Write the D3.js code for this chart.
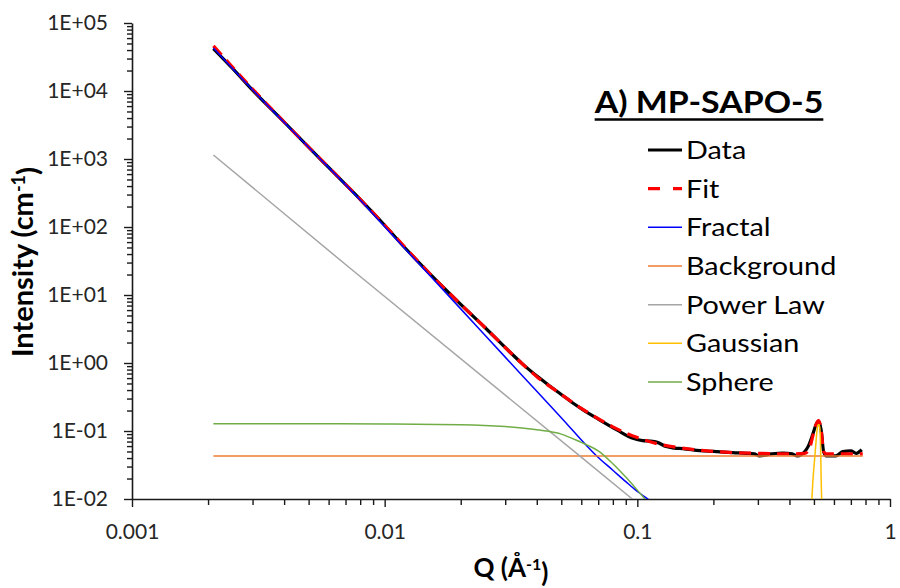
<!DOCTYPE html>
<html>
<head>
<meta charset="utf-8">
<script src="https://cdn.jsdelivr.net/npm/d3@7/dist/d3.min.js"></script>
<style>
  html, body { margin: 0; padding: 0; background: #fff; }
  svg { display: block; font-family: Lato, "Open Sans", sans-serif; }
</style>
</head>
<body>
<svg id="chart" width="900" height="588"></svg>
<script>
// ---- data ----
const xTickValues = [0.001, 0.01, 0.1, 1];
const xTickLabels = ["0.001", "0.01", "0.1", "1"];
const yTickValues = [1e-2, 1e-1, 1e0, 1e1, 1e2, 1e3, 1e4, 1e5];
const yTickLabels = ["1E-02", "1E-01", "1E+00", "1E+01", "1E+02", "1E+03", "1E+04", "1E+05"];

const seriesNames = ["Data", "Fit", "Fractal", "Background", "Power Law", "Gaussian", "Sphere"];

const qData = [0.0021, 0.0025, 0.003, 0.004, 0.005, 0.006, 0.008, 0.01, 0.012, 0.015, 0.02, 0.025, 0.031, 0.035, 0.041, 0.045, 0.05, 0.055, 0.061, 0.07, 0.083, 0.096, 0.105, 0.112, 0.12, 0.13, 0.14, 0.151, 0.177, 0.2, 0.22, 0.239, 0.27, 0.29, 0.305, 0.34, 0.377, 0.41, 0.43, 0.46, 0.475, 0.495, 0.51, 0.521, 0.534, 0.546, 0.56, 0.61, 0.65, 0.7, 0.735, 0.773];
const iData = [42000, 21500, 10300, 3500, 1490, 750, 255, 106, 50, 21, 7.3, 3.3, 1.5, 0.98, 0.6, 0.46, 0.345, 0.265, 0.205, 0.15, 0.104, 0.078, 0.072, 0.071, 0.068, 0.059, 0.056, 0.055, 0.0513, 0.05, 0.049, 0.048, 0.047, 0.046, 0.043, 0.046, 0.0475, 0.046, 0.043, 0.05, 0.06, 0.09, 0.125, 0.14, 0.103, 0.05, 0.043, 0.043, 0.0497, 0.051, 0.047, 0.053];

const qFit = [0.0021, 0.003, 0.005, 0.008, 0.01, 0.015, 0.02, 0.025, 0.031, 0.04, 0.05, 0.06, 0.07, 0.08, 0.1, 0.12, 0.15, 0.2, 0.3, 0.4, 0.46, 0.48, 0.495, 0.51, 0.521, 0.534, 0.546, 0.56, 0.6, 0.7, 0.78];
const iFit = [46000, 10700, 1500, 255, 106, 21, 7.3, 3.3, 1.5, 0.63, 0.345, 0.215, 0.152, 0.115, 0.08, 0.065, 0.056, 0.05, 0.047, 0.046, 0.047, 0.055, 0.085, 0.125, 0.142, 0.105, 0.05, 0.046, 0.046, 0.046, 0.046];

const qFractal = [0.0021, 0.003, 0.005, 0.008, 0.01, 0.02, 0.03, 0.04, 0.05, 0.069, 0.08, 0.09, 0.1, 0.11, 0.12];
const iFractal = [42900, 10400, 1490, 250, 101, 6.25, 1.22, 0.385, 0.157, 0.043, 0.0265, 0.018, 0.0129, 0.01, 0.0078];

const qBackground = [0.0021, 0.78];
const iBackground = [0.043, 0.043];

const qPowerLaw = [0.0021, 0.0073, 0.0593, 0.0955, 0.1];
const iPowerLaw = [1145, 24.7, 0.0426, 0.01, 0.0087];

const qGaussian = [0.486, 0.49, 0.495, 0.502, 0.508, 0.514, 0.519, 0.523, 0.527, 0.531, 0.534, 0.537, 0.54];
const iGaussian = [0.006, 0.009, 0.018, 0.035, 0.06, 0.1, 0.122, 0.125, 0.115, 0.06, 0.02, 0.008, 0.005];

const qSphere = [0.0021, 0.005, 0.01, 0.02, 0.03, 0.04, 0.05, 0.06, 0.064, 0.07, 0.08, 0.09, 0.1, 0.108, 0.115];
const iSphere = [0.128, 0.128, 0.127, 0.124, 0.116, 0.104, 0.09, 0.068, 0.061, 0.051, 0.033, 0.021, 0.0135, 0.0095, 0.006];

// ---- drawing ----
const svg = d3.select("#chart");
const x = d3.scaleLog().domain([0.001, 1]).range([132, 890]);
const y = d3.scaleLog().domain([0.01, 1e5]).range([499, 23]);

const axisColor = "#1a1a1a";
const labelColor = "#262626";
const FONT = "Lato, 'Open Sans', sans-serif";

svg.append("defs").append("clipPath").attr("id", "plotclip")
  .append("rect").attr("x", 132).attr("y", 0).attr("width", 758).attr("height", 499);

const xMinor = [];
for (let e = -3; e < 0; e++) for (let m = 2; m <= 9; m++) xMinor.push(m * Math.pow(10, e));
const yMinor = [];
for (let e = -2; e < 5; e++) for (let m = 2; m <= 9; m++) yMinor.push(m * Math.pow(10, e));

function styleAxis(g) {
  g.selectAll("path.domain").attr("stroke", axisColor).attr("stroke-width", 1.6);
  g.selectAll(".tick line").attr("stroke", axisColor).attr("stroke-width", 1.4);
  g.selectAll(".tick text").attr("fill", labelColor).style("font-size", "21px")
    .style("font-family", FONT);
}

const gyMinor = svg.append("g").attr("transform", "translate(132,0)")
  .call(d3.axisLeft(y).tickValues(yMinor).tickSize(5).tickSizeOuter(0).tickFormat(""));
gyMinor.select("path.domain").remove();
styleAxis(gyMinor);
const gy = svg.append("g").attr("transform", "translate(132,0)")
  .call(d3.axisLeft(y).tickValues(yTickValues).tickSize(8).tickSizeOuter(0).tickPadding(16)
    .tickFormat((d, i) => yTickLabels[i]));
styleAxis(gy);

const gxMinor = svg.append("g").attr("transform", "translate(0,499)")
  .call(d3.axisBottom(x).tickValues(xMinor).tickSize(6).tickSizeOuter(0).tickFormat(""));
gxMinor.select("path.domain").remove();
styleAxis(gxMinor);
const gx = svg.append("g").attr("transform", "translate(0,499)")
  .call(d3.axisBottom(x).tickValues(xTickValues).tickSize(8).tickSizeOuter(0).tickPadding(17)
    .tickFormat((d, i) => xTickLabels[i]));
styleAxis(gx);

const series = [
  { name: "Data", q: qData, v: iData, color: "#000000", width: 3.2, dash: null, curve: d3.curveMonotoneX },
  { name: "Fit", q: qFit, v: iFit, color: "#ff0000", width: 3.2, dash: "12,7", curve: d3.curveMonotoneX },
  { name: "Fractal", q: qFractal, v: iFractal, color: "#0000ff", width: 1.5, dash: null, curve: d3.curveMonotoneX },
  { name: "Background", q: qBackground, v: iBackground, color: "#ed7d31", width: 1.5, dash: null, curve: d3.curveLinear },
  { name: "Power Law", q: qPowerLaw, v: iPowerLaw, color: "#a5a5a5", width: 1.5, dash: null, curve: d3.curveLinear },
  { name: "Gaussian", q: qGaussian, v: iGaussian, color: "#ffc000", width: 1.5, dash: null, curve: d3.curveMonotoneX },
  { name: "Sphere", q: qSphere, v: iSphere, color: "#70ad47", width: 1.5, dash: null, curve: d3.curveMonotoneX }
];

const plot = svg.append("g").attr("clip-path", "url(#plotclip)");
series.forEach(s => {
  const pts = s.q.map((q, i) => [x(q), y(s.v[i])]);
  plot.append("path")
    .attr("d", d3.line().curve(s.curve)(pts))
    .attr("fill", "none")
    .attr("stroke", s.color)
    .attr("stroke-width", s.width)
    .attr("stroke-linejoin", "round")
    .attr("stroke-dasharray", s.dash);
});

// legend title (slightly widened like the reference)
const TITLE_SX = 1.13;
const title = svg.append("text")
  .attr("transform", `translate(709,113) scale(${TITLE_SX},1)`)
  .attr("text-anchor", "middle")
  .style("font-family", FONT)
  .style("font-weight", "bold").style("font-size", "30px")
  .attr("fill", "#000")
  .text("A) MP-SAPO-5");
const tw = title.node().getComputedTextLength() * TITLE_SX;
svg.append("line")
  .attr("x1", 709 - tw / 2).attr("x2", 709 + tw / 2)
  .attr("y1", 119.5).attr("y2", 119.5)
  .attr("stroke", "#000").attr("stroke-width", 2.4);

// legend entries
const legendY = d3.scalePoint().domain(seriesNames).range([150, 382]);
const lg = svg.append("g");
series.forEach(s => {
  const yy = legendY(s.name);
  lg.append("line").attr("x1", 648).attr("x2", 682).attr("y1", yy).attr("y2", yy)
    .attr("stroke", s.color).attr("stroke-width", s.width)
    .attr("stroke-dasharray", s.dash ? "12,13" : null);
  lg.append("text").attr("transform", `translate(686,${yy}) scale(1.15,1)`).attr("dy", "0.36em")
    .style("font-family", FONT).style("font-size", "25px")
    .attr("fill", "#000").text(s.name);
});

// axis titles
const yt = svg.append("text")
  .attr("transform", "translate(33,262) rotate(-90)")
  .attr("text-anchor", "middle")
  .style("font-family", FONT)
  .style("font-weight", "bold").style("font-size", "29px").attr("fill", "#000");
yt.append("tspan").text("Intensity (cm");
yt.append("tspan").attr("dy", "-0.45em").style("font-size", "18px").text("-1");
yt.append("tspan").attr("dy", "0.45em").text(")");

const xt = svg.append("text")
  .attr("x", 511).attr("y", 577)
  .attr("text-anchor", "middle")
  .style("font-family", FONT)
  .style("font-weight", "bold").style("font-size", "26px").attr("fill", "#000");
xt.append("tspan").text("Q (Å");
xt.append("tspan").attr("dy", "-0.45em").style("font-size", "16px").text("-1");
xt.append("tspan").attr("dy", "0.45em").text(")");
</script>
</body>
</html>
